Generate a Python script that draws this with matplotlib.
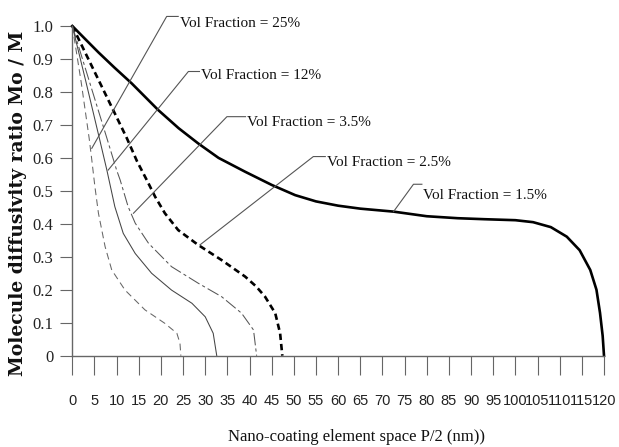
import matplotlib
matplotlib.use("Agg")
import matplotlib.pyplot as plt

# curves: x = P/2 (nm), y = Mo/M
x_15 = [0, 2.5, 5.9, 9.5, 13.4, 19.4, 24, 28.4, 33, 39, 45, 50.3, 55, 60, 65, 72.5, 80, 87, 93, 100, 104, 108, 111.6, 114.5, 116.9, 118.3, 119.1, 119.7, 120]
y_15 = [1.0, 0.966, 0.92, 0.874, 0.826, 0.745, 0.69, 0.644, 0.6, 0.558, 0.518, 0.487, 0.468, 0.455, 0.446, 0.437, 0.423, 0.417, 0.414, 0.411, 0.405, 0.39, 0.361, 0.32, 0.26, 0.2, 0.13, 0.06, 0.0]

x_25 = [0, 3, 5.9, 9.3, 12.3, 14.6, 16.8, 18.7, 20.9, 23.9, 28.4, 33.7, 39, 41.5, 43.5, 45.8, 46.9, 47.4]
y_25 = [1.0, 0.917, 0.837, 0.743, 0.66, 0.59, 0.533, 0.482, 0.432, 0.381, 0.336, 0.29, 0.24, 0.21, 0.179, 0.129, 0.068, 0.0]

x_35 = [0, 4.4, 7.8, 10, 10.8, 12.6, 14.2, 17.2, 22.4, 28.4, 33.7, 38.2, 40.9, 41.6]
y_35 = [1.0, 0.808, 0.66, 0.563, 0.533, 0.452, 0.402, 0.341, 0.27, 0.22, 0.179, 0.129, 0.078, 0.0]

x_12 = [0, 3.0, 6.1, 7.8, 9.6, 11.5, 14.2, 17.9, 22.4, 27, 30, 31.8, 32.6]
y_12 = [1.0, 0.835, 0.66, 0.563, 0.452, 0.371, 0.31, 0.25, 0.199, 0.159, 0.118, 0.068, 0.0]

x_250 = [0, 2, 3.8, 4.4, 5.1, 5.9, 7.4, 8.9, 11.9, 16.4, 20.9, 23.6, 24.3, 24.5]
y_250 = [1.0, 0.83, 0.66, 0.594, 0.513, 0.432, 0.331, 0.26, 0.199, 0.139, 0.098, 0.068, 0.038, 0.0]

xticks = list(range(0, 121, 5))
yticks = [0, 0.1, 0.2, 0.3, 0.4, 0.5, 0.6, 0.7, 0.8, 0.9, 1.0]
ytick_labels = ['0', '0.1', '0.2', '0.3', '0.4', '0.5', '0.6', '0.7', '0.8', '0.9', '1.0']

labels = ['Vol Fraction = 25%', 'Vol Fraction = 12%', 'Vol Fraction = 3.5%',
          'Vol Fraction = 2.5%', 'Vol Fraction = 1.5%']
# leader line: tip on curve, bend, text start (x, baseline y)
tips = [(4.4, 0.629), (8.1, 0.563), (13.8, 0.432), (28.8, 0.336), (72.5, 0.437)]
bends = [(21.3, 1.029), (26.2, 0.862), (34.9, 0.725), (54.4, 0.604), (77.0, 0.52)]
text_pos = [(24.2, 0.998), (29.0, 0.840), (39.4, 0.697), (57.4, 0.575), (79.2, 0.476)]

fig = plt.figure(figsize=(6.19, 4.47), dpi=100)
ax = fig.add_axes([72.3 / 619, 1 - 355.7 / 447, 531.7 / 619, 329.7 / 447])

gray = '#666666'
ax.plot(x_15, y_15, color='black', lw=1.9, clip_on=False)
ax.plot(x_25, y_25, color='black', lw=1.9, dashes=(2.4, 1.5), clip_on=False)
ax.plot(x_35, y_35, color='#555555', lw=0.75, dashes=(12, 3, 3, 3), clip_on=False)
ax.plot(x_12, y_12, color='#444444', lw=0.75, clip_on=False)
ax.plot(x_250, y_250, color='#666666', lw=0.75, dashes=(6.5, 4), clip_on=False)

for lab, tip, bend, tp in zip(labels, tips, bends, text_pos):
    ax.plot([tip[0], bend[0], tp[0] - 0.3], [tip[1], bend[1], bend[1]],
            color='#555555', lw=0.8, clip_on=False)
    ax.text(tp[0], tp[1], lab, fontsize=11, family='Liberation Serif',
            ha='left', va='baseline', color='#111111')

ax.set_xlim(0, 120)
ax.set_ylim(0, 1.0)
ax.set_xticks(xticks)
ax.set_xticklabels([str(t) for t in xticks], family='Liberation Sans', fontsize=10.5)
ax.set_yticks(yticks)
ax.set_yticklabels(ytick_labels, family='Liberation Serif', fontsize=12)

for s in ['top', 'right']:
    ax.spines[s].set_visible(False)
for s in ['left', 'bottom']:
    ax.spines[s].set_color(gray)
    ax.spines[s].set_linewidth(1.0)

ax.tick_params(axis='x', direction='out', length=13.7, width=0.8, color=gray, pad=14, labelcolor='#222222')
ax.tick_params(axis='y', direction='out', length=8.6, width=0.8, color=gray, pad=5, labelcolor='#222222')

ax.set_xlabel('Nano-coating element space P/2 (nm))', family='Liberation Serif', fontsize=12, va='center', color='#111111')
ax.xaxis.set_label_coords(0.534, -0.2466)
ax.set_ylabel('Molecule diffusivity ratio Mo / M', family='DejaVu Serif', fontweight='bold', fontsize=13.5, va='center', color='#111111')
ax.yaxis.set_label_coords(-0.102, 0.463)

fig.savefig('out.png', dpi=100)
